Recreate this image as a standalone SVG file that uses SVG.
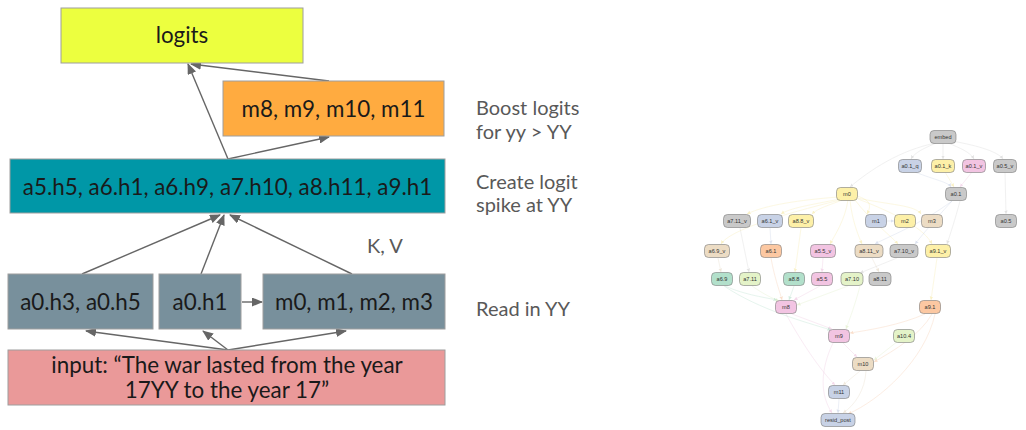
<svg xmlns="http://www.w3.org/2000/svg" width="1026" height="430" viewBox="0 0 1026 430">
<style>
.bx{stroke:#9e9e9e;stroke-width:1}
.bt{font-family:Lato,"Open Sans",sans-serif;font-size:22.4px;fill:#1a1a1a;text-anchor:middle}
.st{font-family:Lato,"Open Sans",sans-serif;font-size:20px;fill:#595959}
.ar{stroke:#666;stroke-width:1.4;fill:none;marker-end:url(#ah)}
.n rect{stroke:#7a7a7a;stroke-width:0.6}
.n text{font-family:"Liberation Sans",Arial,sans-serif;font-size:5.6px;fill:#333;text-anchor:middle}
.g{fill:#c9c9c9}.b{fill:#c8d2e6}.y{fill:#fdf0a8}.p{fill:#f2c4e2}.t{fill:#ecdcc4}.o{fill:#fcc8a2}.gr{fill:#b2e0cb}.l{fill:#e4f3c8}
.e{fill:none;stroke-width:0.6;opacity:0.35}
.eg{stroke:#bdbdbd;marker-end:url(#mg)}.ey{stroke:#f3df7c;marker-end:url(#my)}.eb{stroke:#a9b8d9;marker-end:url(#mb)}
.ep{stroke:#e6a6cf;marker-end:url(#mp)}.et{stroke:#d9c5a5;marker-end:url(#mt)}.eo{stroke:#f3ad7c;marker-end:url(#mo)}
.egr{stroke:#8ccfae;marker-end:url(#mgr)}.el{stroke:#cde5a4;marker-end:url(#ml)}
</style>
<defs>
<marker id="ah" markerUnits="userSpaceOnUse" markerWidth="11" markerHeight="9" refX="10" refY="4.5" orient="auto"><path d="M0,0 L11,4.5 L0,9 z" fill="#666"/></marker>
<marker id="mg" markerUnits="userSpaceOnUse" markerWidth="4" markerHeight="4" refX="3.5" refY="1.75" orient="auto"><path d="M0,0 L3.5,1.75 L0,3.5 z" fill="#b0b0b0"/></marker>
<marker id="my" markerUnits="userSpaceOnUse" markerWidth="4" markerHeight="4" refX="3.5" refY="1.75" orient="auto"><path d="M0,0 L3.5,1.75 L0,3.5 z" fill="#f0d860"/></marker>
<marker id="mb" markerUnits="userSpaceOnUse" markerWidth="4" markerHeight="4" refX="3.5" refY="1.75" orient="auto"><path d="M0,0 L3.5,1.75 L0,3.5 z" fill="#9fb0d6"/></marker>
<marker id="mp" markerUnits="userSpaceOnUse" markerWidth="4" markerHeight="4" refX="3.5" refY="1.75" orient="auto"><path d="M0,0 L3.5,1.75 L0,3.5 z" fill="#e49acb"/></marker>
<marker id="mt" markerUnits="userSpaceOnUse" markerWidth="4" markerHeight="4" refX="3.5" refY="1.75" orient="auto"><path d="M0,0 L3.5,1.75 L0,3.5 z" fill="#d6c09c"/></marker>
<marker id="mo" markerUnits="userSpaceOnUse" markerWidth="4" markerHeight="4" refX="3.5" refY="1.75" orient="auto"><path d="M0,0 L3.5,1.75 L0,3.5 z" fill="#f3a56e"/></marker>
<marker id="mgr" markerUnits="userSpaceOnUse" markerWidth="4" markerHeight="4" refX="3.5" refY="1.75" orient="auto"><path d="M0,0 L3.5,1.75 L0,3.5 z" fill="#80caa6"/></marker>
<marker id="ml" markerUnits="userSpaceOnUse" markerWidth="4" markerHeight="4" refX="3.5" refY="1.75" orient="auto"><path d="M0,0 L3.5,1.75 L0,3.5 z" fill="#c4e098"/></marker>
</defs>
<rect width="1026" height="430" fill="#fff"/>

<!-- Left diagram -->
<g id="connectors">
<line class="ar" x1="228" y1="159" x2="188" y2="64"/>
<line class="ar" x1="329" y1="81" x2="191" y2="64"/>
<line class="ar" x1="228" y1="159" x2="329" y2="137"/>
<line class="ar" x1="82" y1="274" x2="220" y2="215"/>
<line class="ar" x1="201" y1="274" x2="224" y2="215"/>
<line class="ar" x1="352" y1="274" x2="230" y2="215"/>
<line class="ar" x1="242" y1="302" x2="262" y2="302"/>
<line class="ar" x1="228" y1="350" x2="86" y2="331"/>
<line class="ar" x1="228" y1="350" x2="203" y2="331"/>
<line class="ar" x1="228" y1="350" x2="346" y2="331"/>
</g>
<g id="logits"><rect class="bx" x="61" y="8" width="242" height="55" fill="#ecff3f"/><text class="bt" x="182" y="43">logits</text></g>
<g id="mlp-late"><rect class="bx" x="223" y="81" width="221" height="55" fill="#ffab40"/><text class="bt" x="333.5" y="117">m8, m9, m10, m11</text></g>
<g id="heads"><rect class="bx" x="10" y="159" width="435" height="54" fill="#0097a7"/><text class="bt" x="227.5" y="195">a5.h5, a6.h1, a6.h9, a7.h10, a8.h11, a9.h1</text></g>
<g id="a0h3h5"><rect class="bx" x="8" y="274" width="145" height="55" fill="#78909c"/><text class="bt" x="80.5" y="310">a0.h3, a0.h5</text></g>
<g id="a0h1"><rect class="bx" x="159" y="274" width="82" height="55" fill="#78909c"/><text class="bt" x="200" y="310">a0.h1</text></g>
<g id="mlp-early"><rect class="bx" x="263" y="274" width="182" height="55" fill="#78909c"/><text class="bt" x="354" y="310">m0, m1, m2, m3</text></g>
<g id="input"><rect class="bx" x="8" y="350" width="437" height="55" fill="#ea9999"/><text class="bt" x="227" y="373">input: “The war lasted from the year</text><text class="bt" x="227" y="398">17YY to the year 17”</text></g>
<g id="labels">
<text class="st" x="476" y="115">Boost logits</text>
<text class="st" x="476" y="139">for yy &gt; YY</text>
<text class="st" x="476" y="189">Create logit</text>
<text class="st" x="476" y="212">spike at YY</text>
<text class="st" x="367" y="253">K, V</text>
<text class="st" x="476" y="316">Read in YY</text>
</g>

<!-- Right graph -->
<g id="graph-edges">
<path class="e eg" d="M936,143 C900,150 870,170 850,187"/>
<path class="e eg" d="M936,143 C925,148 915,152 911,159"/>
<path class="e eg" d="M943,143 L943,159"/>
<path class="e eg" d="M948,143 C960,148 970,152 974,159"/>
<path class="e eg" d="M952,141 C980,146 998,152 1003,159"/>
<path class="e eb" d="M915,172 C935,180 948,182 951,187"/>
<path class="e ey" d="M945,172 L954,187"/>
<path class="e ep" d="M972,172 L960,187"/>
<path class="e eg" d="M1005,172 L1006,214"/>
<path class="e ey" d="M857,196 C870,200 872,205 867,214"/>
<path class="e eb" d="M886,221 L894,221"/>
<path class="e ey" d="M857,198 C890,205 915,205 921,214"/>
<path class="e ey" d="M838,197 C800,200 765,205 747,214"/>
<path class="e ey" d="M840,199 C810,205 790,208 781,214"/>
<path class="e ey" d="M842,200 C830,205 818,208 812,214"/>
<path class="e ey" d="M840,200 C780,215 730,230 721,244"/>
<path class="e ey" d="M848,200 C845,220 835,235 830,244"/>
<path class="e ey" d="M850,200 C852,220 858,235 862,244"/>
<path class="e ey" d="M855,200 C870,220 890,235 898,244"/>
<path class="e ey" d="M858,199 C900,215 925,230 932,244"/>
<path class="e eg" d="M960,201 C955,220 950,235 947,244"/>
<path class="e eb" d="M952,201 C930,225 920,238 915,244"/>
<path class="e eb" d="M952,201 C920,225 885,238 875,244"/>
<path class="e eb" d="M770,228 L771,244"/>
<path class="e et" d="M718,258 L721,272"/>
<path class="e eg" d="M740,228 L749,272"/>
<path class="e ey" d="M801,228 L795,272"/>
<path class="e ep" d="M823,258 L822,272"/>
<path class="e eg" d="M897,258 L860,273"/>
<path class="e et" d="M872,258 L879,272"/>
<path class="e ey" d="M937,258 L931,300"/>
<path class="e egr" d="M725,286 C745,295 768,298 777,300"/>
<path class="e eo" d="M771,258 C775,280 780,292 782,300"/>
<path class="e egr" d="M794,286 L789,300"/>
<path class="e ep" d="M820,286 L794,300"/>
<path class="e el" d="M752,286 C765,295 772,298 779,301"/>
<path class="e el" d="M848,286 L797,305"/>
<path class="e ep" d="M792,314 L832,329"/>
<path class="e egr" d="M724,286 C760,310 805,322 831,330"/>
<path class="e eo" d="M925,314 C900,325 870,330 850,333"/>
<path class="e el" d="M860,286 C855,305 850,318 846,329"/>
<path class="e ep" d="M843,343 L857,357"/>
<path class="e el" d="M898,341 L874,360"/>
<path class="e eo" d="M932,314 C920,335 895,350 874,362"/>
<path class="e et" d="M860,371 L843,385"/>
<path class="e ep" d="M786,314 C800,340 820,370 835,385"/>
<path class="e eb" d="M839,399 L838,413"/>
<path class="e ep" d="M833,343 C820,370 820,395 832,413"/>
<path class="e et" d="M866,371 C865,390 855,405 843,413"/>
<path class="e eo" d="M935,314 C925,360 880,400 848,414"/>
</g>
<g id="embed" class="n"><rect class="g" x="930" y="130.5" width="26" height="13" rx="4"/><text x="943" y="139">embed</text></g>
<g id="a0.1_q" class="n"><rect class="b" x="898.5" y="159.5" width="23" height="13" rx="4"/><text x="910" y="168">a0.1_q</text></g>
<g id="a0.1_k" class="n"><rect class="y" x="931.5" y="159.5" width="23" height="13" rx="4"/><text x="943" y="168">a0.1_k</text></g>
<g id="a0.1_v" class="n"><rect class="p" x="962.5" y="159.5" width="23" height="13" rx="4"/><text x="974" y="168">a0.1_v</text></g>
<g id="a0.5_v" class="n"><rect class="g" x="993.5" y="159.5" width="23" height="13" rx="4"/><text x="1005" y="168">a0.5_v</text></g>
<g id="m0" class="n"><rect class="y" x="836.5" y="187.5" width="21" height="13" rx="4"/><text x="847" y="196">m0</text></g>
<g id="a0.1" class="n"><rect class="g" x="945.5" y="187.5" width="21" height="13" rx="4"/><text x="956" y="196">a0.1</text></g>
<g id="a7.11_v" class="n"><rect class="g" x="723.5" y="214.5" width="27" height="13" rx="4"/><text x="737" y="223">a7.11_v</text></g>
<g id="a6.1_v" class="n"><rect class="b" x="757.5" y="214.5" width="25" height="13" rx="4"/><text x="770" y="223">a6.1_v</text></g>
<g id="a8.8_v" class="n"><rect class="y" x="788.5" y="214.5" width="25" height="13" rx="4"/><text x="801" y="223">a8.8_v</text></g>
<g id="m1" class="n"><rect class="b" x="865.5" y="214.5" width="21" height="13" rx="4"/><text x="876" y="223">m1</text></g>
<g id="m2" class="n"><rect class="y" x="894.5" y="214.5" width="21" height="13" rx="4"/><text x="905" y="223">m2</text></g>
<g id="m3" class="n"><rect class="t" x="921.5" y="214.5" width="21" height="13" rx="4"/><text x="932" y="223">m3</text></g>
<g id="a0.5" class="n"><rect class="g" x="995.5" y="214.5" width="21" height="13" rx="4"/><text x="1006" y="223">a0.5</text></g>
<g id="a6.9_v" class="n"><rect class="t" x="704.5" y="244.5" width="25" height="13" rx="4"/><text x="717" y="253">a6.9_v</text></g>
<g id="a6.1" class="n"><rect class="o" x="760.5" y="244.5" width="21" height="13" rx="4"/><text x="771" y="253">a6.1</text></g>
<g id="a5.5_v" class="n"><rect class="p" x="810.5" y="244.5" width="25" height="13" rx="4"/><text x="823" y="253">a5.5_v</text></g>
<g id="a8.11_v" class="n"><rect class="t" x="855" y="244.5" width="28" height="13" rx="4"/><text x="869" y="253">a8.11_v</text></g>
<g id="a7.10_v" class="n"><rect class="g" x="890" y="244.5" width="28" height="13" rx="4"/><text x="904" y="253">a7.10_v</text></g>
<g id="a9.1_v" class="n"><rect class="y" x="925.5" y="244.5" width="25" height="13" rx="4"/><text x="938" y="253">a9.1_v</text></g>
<g id="a6.9" class="n"><rect class="gr" x="711.5" y="272.5" width="21" height="13" rx="4"/><text x="722" y="281">a6.9</text></g>
<g id="a7.11" class="n"><rect class="l" x="739.5" y="272.5" width="21" height="13" rx="4"/><text x="750" y="281">a7.11</text></g>
<g id="a8.8" class="n"><rect class="gr" x="783.5" y="272.5" width="21" height="13" rx="4"/><text x="794" y="281">a8.8</text></g>
<g id="a5.5" class="n"><rect class="p" x="811.5" y="272.5" width="21" height="13" rx="4"/><text x="822" y="281">a5.5</text></g>
<g id="a7.10" class="n"><rect class="l" x="841" y="272.5" width="22" height="13" rx="4"/><text x="852" y="281">a7.10</text></g>
<g id="a8.11" class="n"><rect class="g" x="869" y="272.5" width="22" height="13" rx="4"/><text x="880" y="281">a8.11</text></g>
<g id="m8" class="n"><rect class="p" x="775.5" y="300.5" width="21" height="13" rx="4"/><text x="786" y="309">m8</text></g>
<g id="a9.1" class="n"><rect class="o" x="919.5" y="300.5" width="21" height="13" rx="4"/><text x="930" y="309">a9.1</text></g>
<g id="m9" class="n"><rect class="p" x="828.5" y="329.5" width="21" height="13" rx="4"/><text x="839" y="338">m9</text></g>
<g id="a10.4" class="n"><rect class="l" x="893.5" y="329.5" width="21" height="13" rx="4"/><text x="904" y="338">a10.4</text></g>
<g id="m10" class="n"><rect class="t" x="852.5" y="357.5" width="21" height="13" rx="4"/><text x="863" y="366">m10</text></g>
<g id="m11" class="n"><rect class="b" x="828.5" y="385.5" width="21" height="13" rx="4"/><text x="839" y="394">m11</text></g>
<g id="resid_post" class="n"><rect class="b" x="821" y="413.5" width="34" height="13" rx="4"/><text x="838" y="422">resid_post</text></g>
</svg>
